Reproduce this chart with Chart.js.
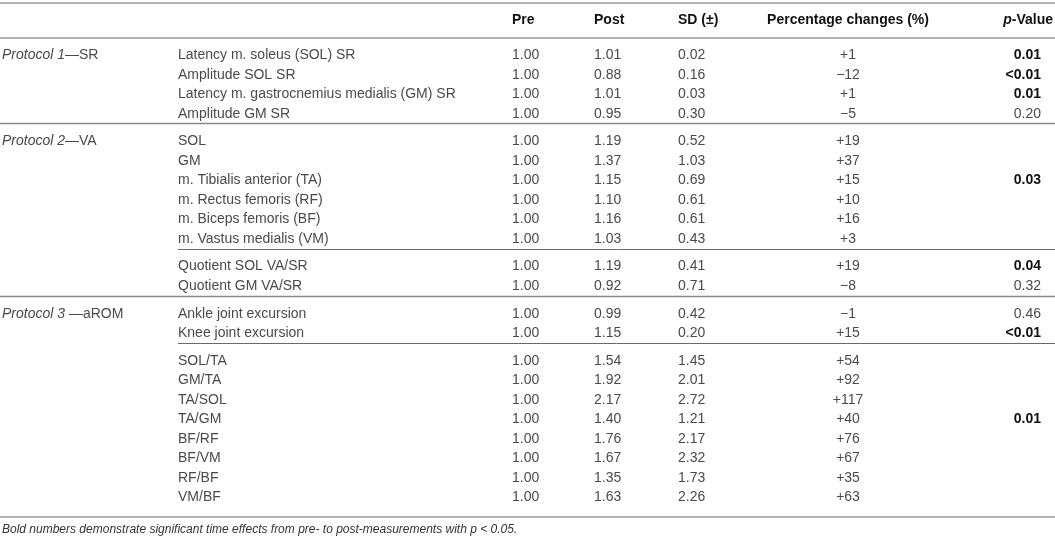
<!DOCTYPE html>
<html>
<head>
<meta charset="utf-8">
<script src="https://cdn.jsdelivr.net/npm/chart.js@4"></script>
<style>
  html, body { margin: 0; padding: 0; background: #ffffff; }
  #wrap { width: 1055px; height: 538px; position: relative; }
</style>
</head>
<body>
<div id="wrap"><canvas id="c"></canvas></div>
<script>
// ---------------- DATA ----------------
const headers = ["Pre", "Post", "SD (\u00b1)", "Percentage changes (%)", "p-Value"];
const protocolNames = ["Protocol 1", "Protocol 2", "Protocol 3 "];
const protocolTags = ["\u2014SR", "\u2014VA", "\u2014aROM"];
const protocolSizes = [4, 8, 10];
const measures = [
  "Latency m. soleus (SOL) SR", "Amplitude SOL SR", "Latency m. gastrocnemius medialis (GM) SR", "Amplitude GM SR",
  "SOL", "GM", "m. Tibialis anterior (TA)", "m. Rectus femoris (RF)", "m. Biceps femoris (BF)", "m. Vastus medialis (VM)",
  "Quotient SOL VA/SR", "Quotient GM VA/SR",
  "Ankle joint excursion", "Knee joint excursion",
  "SOL/TA", "GM/TA", "TA/SOL", "TA/GM", "BF/RF", "BF/VM", "RF/BF", "VM/BF"
];
const preValues = [1.00,1.00,1.00,1.00, 1.00,1.00,1.00,1.00,1.00,1.00, 1.00,1.00, 1.00,1.00, 1.00,1.00,1.00,1.00,1.00,1.00,1.00,1.00];
const postValues = [1.01,0.88,1.01,0.95, 1.19,1.37,1.15,1.10,1.16,1.03, 1.19,0.92, 0.99,1.15, 1.54,1.92,2.17,1.40,1.76,1.67,1.35,1.63];
const sdValues = [0.02,0.16,0.03,0.30, 0.52,1.03,0.69,0.61,0.61,0.43, 0.41,0.71, 0.42,0.20, 1.45,2.01,2.72,1.21,2.17,2.32,1.73,2.26];
const pctChanges = [1,-12,1,-5, 19,37,15,10,16,3, 19,-8, -1,15, 54,92,117,40,76,67,35,63];
const pValues = ["0.01","<0.01","0.01","0.20", null,null,"0.03",null,null,null, "0.04","0.32", "0.46","<0.01", null,null,null,"0.01",null,null,null,null];
// row index after which a partial (sub-group) rule is drawn
const subRules = [9, 13];
const footnote = "Bold numbers demonstrate significant time effects from pre- to post-measurements with p < 0.05.";

// ---------------- LAYOUT (row units) ----------------
const PITCH = 19.5;           // px per row unit
const GAP = 0.42;             // extra space after a rule
const FIRST_ROW = 1.78;
const groupEnds = [];
{ let s = 0; protocolSizes.forEach(n => { s += n; groupEnds.push(s - 1); }); }
const rowPos = [];
{
  let p = FIRST_ROW;
  for (let i = 0; i < measures.length; i++) {
    rowPos.push(p);
    const ruled = (groupEnds.includes(i) && i !== measures.length - 1) || subRules.includes(i);
    p += 1 + (ruled ? GAP : 0);
  }
}
const groupStart = [0, protocolSizes[0], protocolSizes[0] + protocolSizes[1]];

const X = { protocol: 2, measure: 178, pre: 512, post: 594, sd: 678, pct: 848, p: 1041, pHead: 1053 };

const FONT = '"Liberation Sans", Arial, Helvetica, sans-serif';
const TXT = '#4a4a4a';
const BOLD = '#111111';

function fmtPct(v) { return (v > 0 ? '+' : '\u2212') + Math.abs(v); }
function isSig(p) { return p.startsWith('<') || parseFloat(p) < 0.05; }
function fmtP(p) { return p.replace('<', '<'); }

const cellDatasets = [
  { label: 'measure', align: 'left', font: '14px ' + FONT, color: TXT,
    data: measures.map((m, i) => ({ x: X.measure, y: rowPos[i], text: m })) },
  { label: 'pre', align: 'left', font: '14px ' + FONT, color: TXT,
    data: preValues.map((v, i) => ({ x: X.pre, y: rowPos[i], text: v.toFixed(2) })) },
  { label: 'post', align: 'left', font: '14px ' + FONT, color: TXT,
    data: postValues.map((v, i) => ({ x: X.post, y: rowPos[i], text: v.toFixed(2) })) },
  { label: 'sd', align: 'left', font: '14px ' + FONT, color: TXT,
    data: sdValues.map((v, i) => ({ x: X.sd, y: rowPos[i], text: v.toFixed(2) })) },
  { label: 'pct', align: 'center', font: '14px ' + FONT, color: TXT,
    data: pctChanges.map((v, i) => ({ x: X.pct, y: rowPos[i], text: fmtPct(v) })) },
  { label: 'p', align: 'right', font: '14px ' + FONT, color: TXT,
    data: pValues.map((v, i) => v === null ? null : ({ x: X.p, y: rowPos[i], text: fmtP(v), bold: isSig(v) })).filter(d => d) },
  { label: 'header', align: 'left', font: 'bold 14px ' + FONT, color: BOLD,
    data: [
      { x: X.pre, y: 0, text: headers[0] },
      { x: X.post, y: 0, text: headers[1] },
      { x: X.sd, y: 0, text: headers[2] },
      { x: X.pct, y: 0, text: headers[3], align: 'center' },
      { x: X.pHead, y: 0, text: headers[4], align: 'right', pHeader: true }
    ] },
  { label: 'protocol', align: 'left', font: '14px ' + FONT, color: TXT,
    data: protocolNames.map((n, g) => ({ x: X.protocol, y: rowPos[groupStart[g]], text: n, tag: protocolTags[g] })) },
  { label: 'footnote', align: 'left', font: 'italic 12px ' + FONT, color: '#333333',
    data: [{ x: X.protocol, y: rowPos[measures.length - 1] + 1.64, text: footnote }] }
];

const tablePlugin = {
  id: 'tablePlugin',
  beforeDatasetsDraw(chart) {
    const ctx = chart.ctx, xs = chart.scales.x, ys = chart.scales.y;
    const L = xs.getPixelForValue(0), R = xs.getPixelForValue(1055);
    const hline = (pos, x0, x1, w, col) => {
      const y = Math.round(ys.getPixelForValue(pos)) + (w % 2 ? 0.5 : 0);
      ctx.save(); ctx.strokeStyle = col; ctx.lineWidth = w;
      ctx.beginPath(); ctx.moveTo(x0, y); ctx.lineTo(x1, y); ctx.stroke(); ctx.restore();
    };
    const last = measures.length - 1;
    hline(-0.92, L, R, 2, '#b4b4b4');                      // top rule
    hline(0.9, L, R, 2, '#b4b4b4');                        // header rule
    groupEnds.forEach(i => { if (i !== last) hline(rowPos[i] + 0.5, L, R, 1.5, '#8a8a8a'); });
    subRules.forEach(i => hline(rowPos[i] + 0.5, xs.getPixelForValue(X.measure), R, 1, '#6a6a6a'));
    hline(rowPos[last] + 0.98, L, R, 2, '#b4b4b4');        // bottom rule
  },
  afterDatasetsDraw(chart) {
    const ctx = chart.ctx;
    chart.data.datasets.forEach((ds, di) => {
      const meta = chart.getDatasetMeta(di);
      meta.data.forEach((el, j) => {
        const d = ds.data[j];
        ctx.save();
        ctx.textBaseline = 'middle';
        ctx.textAlign = d.align || ds.align;
        ctx.font = d.bold ? 'bold 14px ' + FONT : ds.font;
        ctx.fillStyle = d.bold ? BOLD : ds.color;
        if (d.pHeader) {
          // bold italic "p" followed by bold "-Value"
          ctx.textAlign = 'left';
          ctx.font = 'bold 14px ' + FONT;
          const rest = d.text.slice(1);
          const wRest = ctx.measureText(rest).width;
          ctx.font = 'italic bold 14px ' + FONT;
          const wP = ctx.measureText('p').width;
          const x0 = el.x - wRest - wP;
          ctx.fillText('p', x0, el.y);
          ctx.font = 'bold 14px ' + FONT;
          ctx.fillText(rest, x0 + wP, el.y);
        } else if (d.tag) {
          ctx.textAlign = 'left';
          ctx.font = 'italic 14px ' + FONT;
          ctx.fillText(d.text, el.x, el.y);
          const w = ctx.measureText(d.text).width;
          ctx.font = '14px ' + FONT;
          ctx.fillText(d.tag, el.x + w, el.y);
        } else {
          ctx.fillText(d.text, el.x, el.y);
        }
        ctx.restore();
      });
    });
  }
};

const yMin = -20.5 / PITCH;
const yMax = yMin + 538 / PITCH;

new Chart(document.getElementById('c'), {
  type: 'scatter',
  data: { datasets: cellDatasets.map(ds => Object.assign({ pointRadius: 0, pointHoverRadius: 0, showLine: false }, ds)) },
  options: {
    responsive: true,
    maintainAspectRatio: false,
    animation: false,
    events: [],
    layout: { padding: 0 },
    plugins: { legend: { display: false }, tooltip: { enabled: false } },
    scales: {
      x: { type: 'linear', min: 0, max: 1055, display: false },
      y: { type: 'linear', min: yMin, max: yMax, reverse: true, display: false }
    }
  },
  plugins: [tablePlugin]
});
</script>
</body>
</html>
